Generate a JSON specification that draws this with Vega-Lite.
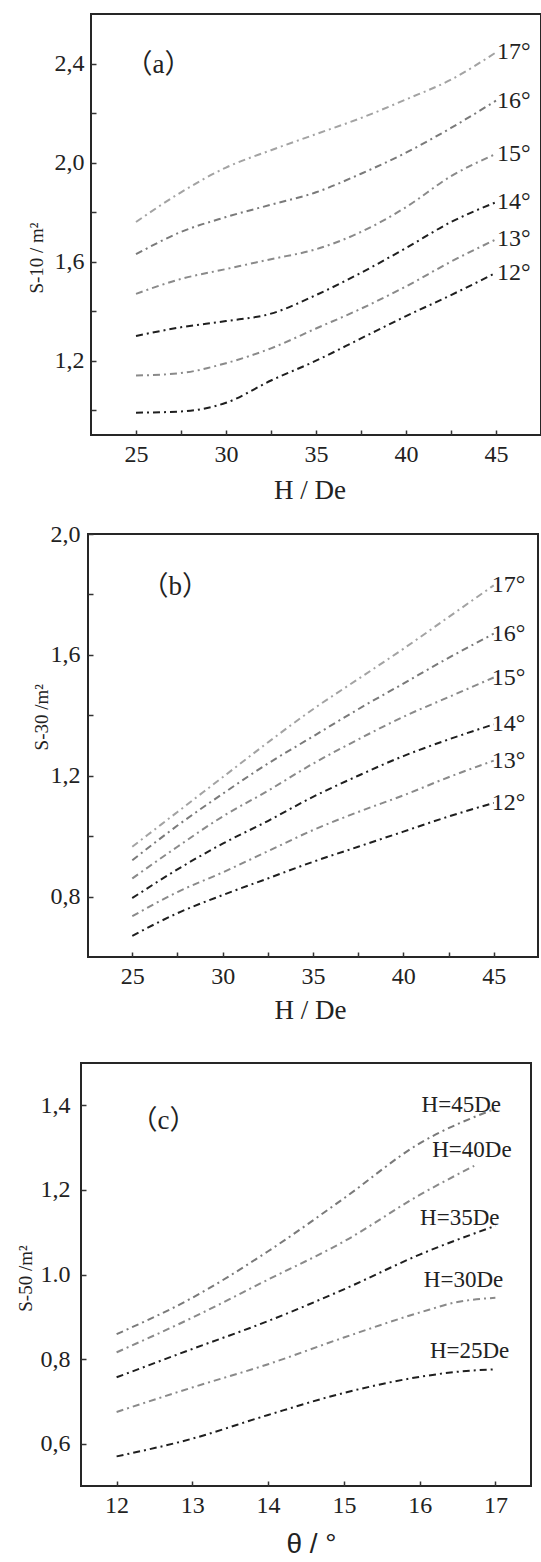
{
  "$schema": "https://vega.github.io/schema/vega-lite/v6.json",
  "background": "white",
  "padding": {"left": 14, "top": 13, "right": 0, "bottom": 0},
  "spacing": 17,
  "config": {
    "view": {"stroke": "#262626", "strokeWidth": 2},
    "axis": {
      "domain": false,
      "grid": false,
      "tickSize": -5,
      "tickWidth": 1.5,
      "tickColor": "#333333",
      "labelFont": "Liberation Serif",
      "labelFontSize": 24,
      "labelColor": "#222222",
      "titleFont": "Liberation Serif",
      "titleFontWeight": "normal",
      "titleColor": "#222222"
    },
    "line": {"interpolate": "monotone", "strokeDash": [7, 4, 2, 4], "strokeWidth": 2},
    "text": {"font": "Liberation Serif", "color": "#222222"}
  },
  "datasets": {
    "a": [
      {"H": 25, "S": 0.99, "angle": "12°"}, {"H": 27.5, "S": 0.995, "angle": "12°"}, {"H": 30, "S": 1.03, "angle": "12°"}, {"H": 32.5, "S": 1.12, "angle": "12°"}, {"H": 35, "S": 1.2, "angle": "12°"}, {"H": 37.5, "S": 1.29, "angle": "12°"}, {"H": 40, "S": 1.38, "angle": "12°"}, {"H": 42.5, "S": 1.465, "angle": "12°"}, {"H": 45, "S": 1.555, "angle": "12°"},
      {"H": 25, "S": 1.14, "angle": "13°"}, {"H": 27.5, "S": 1.15, "angle": "13°"}, {"H": 30, "S": 1.19, "angle": "13°"}, {"H": 32.5, "S": 1.25, "angle": "13°"}, {"H": 35, "S": 1.33, "angle": "13°"}, {"H": 37.5, "S": 1.41, "angle": "13°"}, {"H": 40, "S": 1.5, "angle": "13°"}, {"H": 42.5, "S": 1.6, "angle": "13°"}, {"H": 45, "S": 1.69, "angle": "13°"},
      {"H": 25, "S": 1.3, "angle": "14°"}, {"H": 27.5, "S": 1.335, "angle": "14°"}, {"H": 30, "S": 1.36, "angle": "14°"}, {"H": 32.5, "S": 1.39, "angle": "14°"}, {"H": 35, "S": 1.465, "angle": "14°"}, {"H": 37.5, "S": 1.555, "angle": "14°"}, {"H": 40, "S": 1.655, "angle": "14°"}, {"H": 42.5, "S": 1.76, "angle": "14°"}, {"H": 45, "S": 1.84, "angle": "14°"},
      {"H": 25, "S": 1.47, "angle": "15°"}, {"H": 27.5, "S": 1.53, "angle": "15°"}, {"H": 30, "S": 1.57, "angle": "15°"}, {"H": 32.5, "S": 1.61, "angle": "15°"}, {"H": 35, "S": 1.65, "angle": "15°"}, {"H": 37.5, "S": 1.72, "angle": "15°"}, {"H": 40, "S": 1.82, "angle": "15°"}, {"H": 42.5, "S": 1.945, "angle": "15°"}, {"H": 45, "S": 2.035, "angle": "15°"},
      {"H": 25, "S": 1.63, "angle": "16°"}, {"H": 27.5, "S": 1.72, "angle": "16°"}, {"H": 30, "S": 1.78, "angle": "16°"}, {"H": 32.5, "S": 1.83, "angle": "16°"}, {"H": 35, "S": 1.88, "angle": "16°"}, {"H": 37.5, "S": 1.955, "angle": "16°"}, {"H": 40, "S": 2.04, "angle": "16°"}, {"H": 42.5, "S": 2.14, "angle": "16°"}, {"H": 45, "S": 2.25, "angle": "16°"},
      {"H": 25, "S": 1.76, "angle": "17°"}, {"H": 27.5, "S": 1.88, "angle": "17°"}, {"H": 30, "S": 1.98, "angle": "17°"}, {"H": 32.5, "S": 2.05, "angle": "17°"}, {"H": 35, "S": 2.115, "angle": "17°"}, {"H": 37.5, "S": 2.18, "angle": "17°"}, {"H": 40, "S": 2.255, "angle": "17°"}, {"H": 42.5, "S": 2.335, "angle": "17°"}, {"H": 45, "S": 2.445, "angle": "17°"}
    ],
    "b": [
      {"H": 25, "S": 0.67, "angle": "12°"}, {"H": 27.5, "S": 0.745, "angle": "12°"}, {"H": 30, "S": 0.805, "angle": "12°"}, {"H": 32.5, "S": 0.86, "angle": "12°"}, {"H": 35, "S": 0.915, "angle": "12°"}, {"H": 37.5, "S": 0.965, "angle": "12°"}, {"H": 40, "S": 1.015, "angle": "12°"}, {"H": 42.5, "S": 1.065, "angle": "12°"}, {"H": 45, "S": 1.11, "angle": "12°"},
      {"H": 25, "S": 0.735, "angle": "13°"}, {"H": 27.5, "S": 0.815, "angle": "13°"}, {"H": 30, "S": 0.88, "angle": "13°"}, {"H": 32.5, "S": 0.95, "angle": "13°"}, {"H": 35, "S": 1.02, "angle": "13°"}, {"H": 37.5, "S": 1.08, "angle": "13°"}, {"H": 40, "S": 1.135, "angle": "13°"}, {"H": 42.5, "S": 1.195, "angle": "13°"}, {"H": 45, "S": 1.25, "angle": "13°"},
      {"H": 25, "S": 0.795, "angle": "14°"}, {"H": 27.5, "S": 0.89, "angle": "14°"}, {"H": 30, "S": 0.975, "angle": "14°"}, {"H": 32.5, "S": 1.05, "angle": "14°"}, {"H": 35, "S": 1.13, "angle": "14°"}, {"H": 37.5, "S": 1.2, "angle": "14°"}, {"H": 40, "S": 1.265, "angle": "14°"}, {"H": 42.5, "S": 1.32, "angle": "14°"}, {"H": 45, "S": 1.37, "angle": "14°"},
      {"H": 25, "S": 0.86, "angle": "15°"}, {"H": 27.5, "S": 0.965, "angle": "15°"}, {"H": 30, "S": 1.065, "angle": "15°"}, {"H": 32.5, "S": 1.15, "angle": "15°"}, {"H": 35, "S": 1.24, "angle": "15°"}, {"H": 37.5, "S": 1.32, "angle": "15°"}, {"H": 40, "S": 1.395, "angle": "15°"}, {"H": 42.5, "S": 1.46, "angle": "15°"}, {"H": 45, "S": 1.525, "angle": "15°"},
      {"H": 25, "S": 0.92, "angle": "16°"}, {"H": 27.5, "S": 1.035, "angle": "16°"}, {"H": 30, "S": 1.14, "angle": "16°"}, {"H": 32.5, "S": 1.24, "angle": "16°"}, {"H": 35, "S": 1.33, "angle": "16°"}, {"H": 37.5, "S": 1.42, "angle": "16°"}, {"H": 40, "S": 1.505, "angle": "16°"}, {"H": 42.5, "S": 1.59, "angle": "16°"}, {"H": 45, "S": 1.67, "angle": "16°"},
      {"H": 25, "S": 0.965, "angle": "17°"}, {"H": 27.5, "S": 1.08, "angle": "17°"}, {"H": 30, "S": 1.195, "angle": "17°"}, {"H": 32.5, "S": 1.31, "angle": "17°"}, {"H": 35, "S": 1.42, "angle": "17°"}, {"H": 37.5, "S": 1.52, "angle": "17°"}, {"H": 40, "S": 1.62, "angle": "17°"}, {"H": 42.5, "S": 1.725, "angle": "17°"}, {"H": 45, "S": 1.83, "angle": "17°"}
    ],
    "c": [
      {"theta": 12, "S": 0.57, "H": "H=25De"}, {"theta": 13, "S": 0.612, "H": "H=25De"}, {"theta": 14, "S": 0.668, "H": "H=25De"}, {"theta": 15, "S": 0.72, "H": "H=25De"}, {"theta": 16, "S": 0.758, "H": "H=25De"}, {"theta": 16.5, "S": 0.77, "H": "H=25De"}, {"theta": 17, "S": 0.776, "H": "H=25De"},
      {"theta": 12, "S": 0.675, "H": "H=30De"}, {"theta": 13, "S": 0.733, "H": "H=30De"}, {"theta": 14, "S": 0.788, "H": "H=30De"}, {"theta": 15, "S": 0.851, "H": "H=30De"}, {"theta": 16, "S": 0.91, "H": "H=30De"}, {"theta": 16.5, "S": 0.935, "H": "H=30De"}, {"theta": 17, "S": 0.945, "H": "H=30De"},
      {"theta": 12, "S": 0.757, "H": "H=35De"}, {"theta": 13, "S": 0.824, "H": "H=35De"}, {"theta": 14, "S": 0.89, "H": "H=35De"}, {"theta": 15, "S": 0.965, "H": "H=35De"}, {"theta": 16, "S": 1.047, "H": "H=35De"}, {"theta": 17, "S": 1.115, "H": "H=35De"},
      {"theta": 12, "S": 0.816, "H": "H=40De"}, {"theta": 13, "S": 0.898, "H": "H=40De"}, {"theta": 14, "S": 0.988, "H": "H=40De"}, {"theta": 15, "S": 1.078, "H": "H=40De"}, {"theta": 16, "S": 1.188, "H": "H=40De"}, {"theta": 16.72, "S": 1.257, "H": "H=40De"},
      {"theta": 12, "S": 0.859, "H": "H=45De"}, {"theta": 13, "S": 0.945, "H": "H=45De"}, {"theta": 14, "S": 1.055, "H": "H=45De"}, {"theta": 15, "S": 1.18, "H": "H=45De"}, {"theta": 16, "S": 1.31, "H": "H=45De"}, {"theta": 17, "S": 1.392, "H": "H=45De"}
    ],
    "cLabels": [
      {"theta": 16.55, "S": 1.4, "H": "H=45De"},
      {"theta": 16.69, "S": 1.294, "H": "H=40De"},
      {"theta": 16.53, "S": 1.133, "H": "H=35De"},
      {"theta": 16.58, "S": 0.988, "H": "H=30De"},
      {"theta": 16.66, "S": 0.82, "H": "H=25De"}
    ]
  },
  "vconcat": [
    {"spacing": 0, "hconcat": [
    {"width": 12, "height": 1, "view": {"stroke": null}, "data": {"values": []}, "mark": "point"},
    {
      "width": 450,
      "height": 421,
      "encoding": {
        "x": {"field": "H", "type": "quantitative", "scale": {"domain": [22.5, 47.5], "nice": false, "zero": false},
          "axis": {"title": "H / De", "values": [25, 27.5, 30, 32.5, 35, 37.5, 40, 42.5, 45], "labelExpr": "datum.value % 5 == 0 ? datum.label : ''", "labelPadding": 12, "titleFontSize": 27, "titleBaseline": "middle", "titleX": 218.5, "titleY": 55}},
        "y": {"field": "S", "type": "quantitative", "scale": {"domain": [0.9, 2.6], "nice": false, "zero": false},
          "axis": {"title": "S-10 / m²", "values": [1.0, 1.2, 1.4, 1.6, 1.8, 2.0, 2.2, 2.4], "labelExpr": "round(datum.value*10) % 4 == 0 ? replace(format(datum.value, '.1f'), '.', ',') : ''", "labelPadding": 12, "titleFontSize": 19, "titleX": -44.5, "titleY": 243.5}}
      },
      "layer": [
        {
          "data": {"name": "a"},
          "mark": "line",
          "encoding": {
            "color": {"field": "angle", "type": "nominal", "scale": {"domain": ["12°", "13°", "14°", "15°", "16°", "17°"], "range": ["#1f1f1f", "#8a8a8a", "#1f1f1f", "#8a8a8a", "#7a7a7a", "#a3a3a3"]}, "legend": null}
          }
        },
        {
          "data": {"name": "a"},
          "transform": [{"filter": "datum.H == 45"}],
          "mark": {"type": "text", "align": "left", "baseline": "middle", "dx": 1, "fontSize": 24},
          "encoding": {"text": {"field": "angle"}}
        },
        {
          "data": {"values": [{"H": 26.25, "S": 2.394, "panel": "（a）"}]},
          "mark": {"type": "text", "font": "Liberation Serif, Noto Sans CJK SC", "fontSize": 27, "baseline": "middle"},
          "encoding": {"text": {"field": "panel"}}
        }
      ]
    }
    ]},
    {"spacing": 0, "hconcat": [
    {"width": 17, "height": 1, "view": {"stroke": null}, "data": {"values": []}, "mark": "point"},
    {
      "width": 450,
      "height": 423,
      "encoding": {
        "x": {"field": "H", "type": "quantitative", "scale": {"domain": [22.55, 47.45], "nice": false, "zero": false},
          "axis": {"title": "H / De", "values": [25, 27.5, 30, 32.5, 35, 37.5, 40, 42.5, 45], "labelExpr": "datum.value % 5 == 0 ? datum.label : ''", "labelPadding": 12, "titleFontSize": 27, "titleBaseline": "middle", "titleX": 222, "titleY": 53}},
        "y": {"field": "S", "type": "quantitative", "scale": {"domain": [0.6, 2.0], "nice": false, "zero": false},
          "axis": {"title": "S-30 /m²", "values": [0.8, 1.0, 1.2, 1.4, 1.6, 1.8, 2.0], "labelExpr": "round(datum.value*10) % 4 == 0 ? replace(format(datum.value, '.1f'), '.', ',') : ''", "labelPadding": 13, "titleFontSize": 19, "titleX": -37, "titleY": 182.7}}
      },
      "layer": [
        {
          "data": {"name": "b"},
          "mark": "line",
          "encoding": {
            "color": {"field": "angle", "type": "nominal", "scale": {"domain": ["12°", "13°", "14°", "15°", "16°", "17°"], "range": ["#1f1f1f", "#8a8a8a", "#1f1f1f", "#8a8a8a", "#7a7a7a", "#a3a3a3"]}, "legend": null}
          }
        },
        {
          "data": {"name": "b"},
          "transform": [{"filter": "datum.H == 45"}],
          "mark": {"type": "text", "align": "left", "baseline": "middle", "dx": -2, "fontSize": 24},
          "encoding": {"text": {"field": "angle"}}
        },
        {
          "data": {"values": [{"H": 27.38, "S": 1.823, "panel": "（b）"}]},
          "mark": {"type": "text", "font": "Liberation Serif, Noto Sans CJK SC", "fontSize": 27, "baseline": "middle"},
          "encoding": {"text": {"field": "panel"}}
        }
      ]
    }
    ]},
    {"spacing": 0, "hconcat": [
    {"width": 1, "height": 1, "view": {"stroke": null}, "data": {"values": []}, "mark": "point"},
    {
      "width": 450,
      "height": 423,
      "title": {"text": " ", "fontSize": 12, "offset": 8},
      "encoding": {
        "x": {"field": "theta", "type": "quantitative", "scale": {"domain": [11.53, 17.47], "nice": false, "zero": false},
          "axis": {"title": "θ / °", "values": [12, 13, 14, 15, 16, 17], "labelPadding": 12, "titleFont": "Liberation Sans", "titleFontSize": 28, "titleBaseline": "middle", "titleX": 230, "titleY": 58}},
        "y": {"field": "S", "type": "quantitative", "scale": {"domain": [0.5, 1.5], "nice": false, "zero": false},
          "axis": {"title": "S-50 /m²", "values": [0.6, 0.8, 1.0, 1.2, 1.4], "labelExpr": "datum.value == 1 ? '1.0' : replace(format(datum.value, '.1f'), '.', ',')", "labelPadding": 16, "titleFontSize": 19, "titleX": -45.7, "titleY": 215}}
      },
      "layer": [
        {
          "data": {"name": "c"},
          "mark": "line",
          "encoding": {
            "color": {"field": "H", "type": "nominal", "scale": {"domain": ["H=25De", "H=30De", "H=35De", "H=40De", "H=45De"], "range": ["#1f1f1f", "#8a8a8a", "#1f1f1f", "#8a8a8a", "#8a8a8a"]}, "legend": null}
          }
        },
        {
          "data": {"name": "cLabels"},
          "mark": {"type": "text", "align": "center", "baseline": "middle", "fontSize": 23},
          "encoding": {"text": {"field": "H"}}
        },
        {
          "data": {"values": [{"theta": 12.62, "S": 1.364, "panel": "（c）"}]},
          "mark": {"type": "text", "font": "Liberation Serif, Noto Sans CJK SC", "fontSize": 27, "baseline": "middle"},
          "encoding": {"text": {"field": "panel"}}
        }
      ]
    }
    ]}
  ]
}
